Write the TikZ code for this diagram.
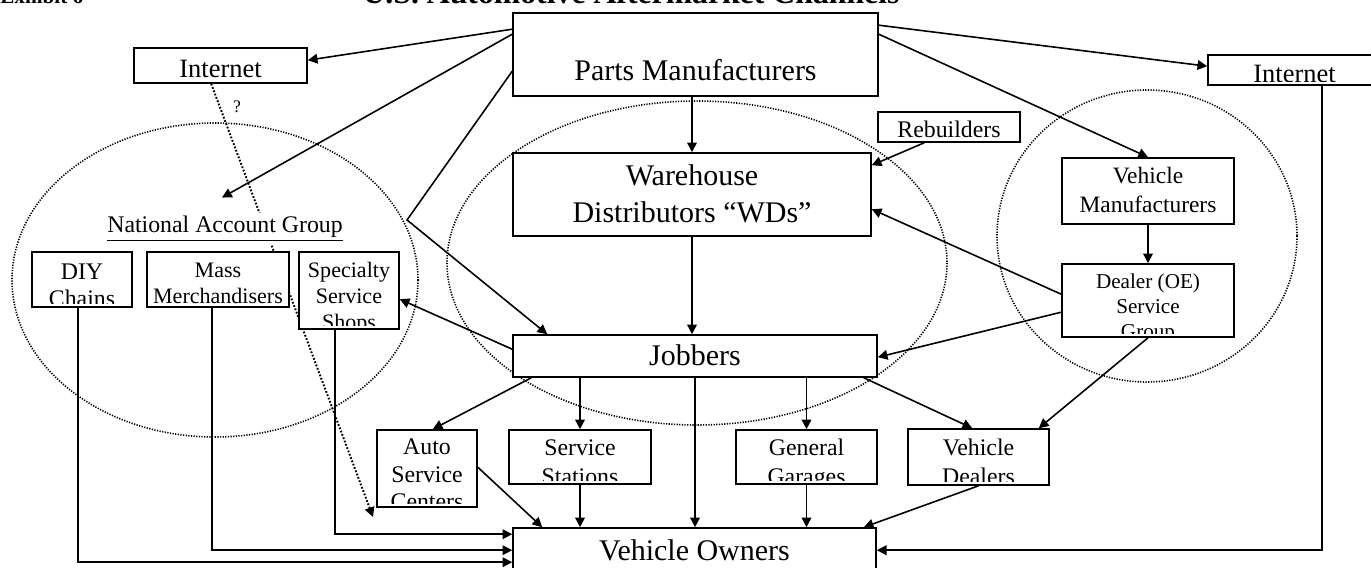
\documentclass[tikz,border=0pt]{standalone}
\usepackage{fontspec}
\setmainfont{Liberation Serif}
\usetikzlibrary{arrows.meta}
\usetikzlibrary{calc}
\usetikzlibrary{backgrounds}

\newdimen\pxu
\pxu=0.567pt
\newcommand{\bigtext}{\fontsize{17}{21}\selectfont}
\newcommand{\nettext}{\fontsize{15}{17}\selectfont}
\newcommand{\smalltext}{\fontsize{13.5}{16.5}\selectfont}
\newcommand{\tinytext}{\fontsize{12.5}{14.7}\selectfont}

\begin{document}
\begin{tikzpicture}[x=0.567pt,y=-0.567pt,>={Triangle[length=5.5pt,width=5.5pt]},
    box/.style={draw,fill=white,line width=0.9pt,inner sep=0pt},
    boxsize/.style 2 args={minimum width=#1*0.567pt,minimum height=#2*0.567pt},
    says/.style n args={3}{path picture={%
        \clip ([yshift=2pt]path picture bounding box.south west) rectangle (path picture bounding box.north east);
        \node[font=#1,align=center,anchor=north,inner sep=0pt,
          minimum width=0pt,minimum height=0pt,draw=none,fill=none]
          at (path picture bounding box.north) {\rule{0pt}{#2\pxu}#3};}},
    link/.style={->,line width=0.9pt},
    ring/.style={line width=0.9pt,dash pattern=on 0.7pt off 0.8pt},
    maybe/.style={->,line width=1.1pt,dash pattern=on 1pt off 1pt}]
  \useasboundingbox (0,0) rectangle (1371,568);

  % heading, runs off the top edge
  \node[font=\bfseries\fontsize{12}{14}\selectfont,anchor=base west,inner sep=0pt] (exhibit) at (0,4) {Exhibit 6};
  \node[font=\bfseries\fontsize{18}{21}\selectfont,anchor=base,inner sep=0pt] (title) at (631,4) {U.S. Automotive Aftermarket Channels};

  % top row
  \node[box,boxsize={173}{35},says={\nettext}{29}{Internet}] (netL) at (220.5,65.5) {};
  \node[box,boxsize={365}{83},says={\bigtext}{67}{Parts Manufacturers}] (pm) at (695.5,54.5) {};
  \node[box,boxsize={173}{30},says={\nettext}{27}{Internet}] (netR) at (1294.5,70) {};
  \node[box,boxsize={142}{30},says={\fontsize{13.5}{15}\selectfont}{25}{Rebuilders}] (reb) at (949,127) {};

  % middle
  \node[box,boxsize={358}{83},says={\bigtext}{32}{Warehouse\\Distributors “WDs”}] (wd) at (692,194.5) {};
  \node[box,boxsize={172}{66},says={\fontsize{13.3}{16.4}\selectfont}{25}{Vehicle\\Manufacturers}] (vm) at (1148,191) {};
  \node[box,boxsize={172}{73},says={\fontsize{12}{14.2}\selectfont}{24}{Dealer (OE)\\Service\\Group}] (dealer) at (1148,300.5) {};
  \node[fill=white,inner sep=2pt,font=\fontsize{13.5}{15}\selectfont,anchor=base] (nag) at (225,233) {\underline{National Account Group}};
  \node[box,boxsize={100}{55},says={\fontsize{13.5}{15.3}\selectfont}{27}{DIY\\Chains}] (diy) at (82,279.5) {};
  \node[box,boxsize={142}{55},says={\tinytext}{25}{Mass\\Merchandisers}] (mass) at (218,279.5) {};
  \node[box,boxsize={100}{77},says={\tinytext}{25}{Specialty\\Service\\Shops}] (spec) at (349,290.5) {};
  \node[box,boxsize={364}{42},says={\bigtext}{30}{Jobbers}] (job) at (695,356) {};

  % bottom rows
  \node[box,boxsize={100}{77},says={\fontsize{13.5}{15.5}\selectfont}{24}{Auto\\Service\\Centers}] (asc) at (427,468.5) {};
  \node[box,boxsize={142}{54},says={\smalltext}{25}{Service\\Stations}] (ss) at (580,457) {};
  \node[box,boxsize={141}{54},says={\smalltext}{25}{General\\Garages}] (gg) at (806.5,457) {};
  \node[box,boxsize={141}{56},says={\smalltext}{26}{Vehicle\\Dealers}] (vd) at (978.5,457) {};
  \node[box,boxsize={363}{60},says={\bigtext}{32}{Vehicle Owners}] (vo) at (694.5,558) {};

  \begin{pgfonlayer}{background}
    % groupings
    \draw[ring] (215,280) ellipse [x radius=203, y radius=157];
    \draw[ring] (697,263) ellipse [x radius=250, y radius=162];
    \draw[ring] (1147,236) ellipse [x radius=150, y radius=146];
    % uncertain web channel
    \coordinate (web) at (373,517);
    \draw[maybe] ($(netL.south west)+(78,0)$) -- (web);
    \node[font=\fontsize{10}{12}\selectfont] (q) at (237,107) {?};
  \end{pgfonlayer}

  % from parts manufacturers
  \coordinate (kink) at (407,220);
  \draw[link] ($(pm.north west)+(0,17)$) -- ($(netL.north east)+(0,13)$);
  \draw[link] ($(pm.north west)+(0,22)$) -- ($(nag.north)+(-3,-15)$);
  \draw[link] ($(pm.north west)+(0,59)$) -- (kink) -- ($(job.north west)+(35,0)$);
  \draw[link] ($(pm.north east)+(0,13)$) -- ($(netR.north west)+(0,12)$);
  \draw[link] ($(pm.north east)+(0,22)$) -- (vm.north);
  \draw[link] (wd.north |- pm.south) -- (wd.north);

  % into WDs and jobbers
  \draw[link] ($(reb.south west)+(47,0)$) -- ($(wd.north east)+(0,13)$);
  \draw[link] (wd.south) -- (wd.south |- job.north);
  \draw[link] ($(dealer.north west)+(0,31)$) -- ($(wd.north east)+(0,57)$);
  \draw[link] ($(dealer.north west)+(0,49)$) -- ($(job.north east)+(0,23)$);
  \draw[link] ($(job.north west)+(0,15)$) -- ($(spec.north east)+(0,48)$);
  \draw[link] (vm.south) -- (dealer.north);
  \draw[link] (dealer.south) -- ($(vd.north east)+(-11,0)$);

  % jobbers out
  \draw[link] ($(job.south west)+(19,0)$) -- ($(asc.north east)+(-45,0)$);
  \draw[link] (ss.north |- job.south) -- (ss.north);
  \draw[link] (job.south) -- (job.south |- vo.north);
  \draw[link] (gg.north |- job.south) -- (gg.north);
  \draw[link] ($(job.south east)+(-14,0)$) -- ($(vd.north west)+(65,0)$);

  % to vehicle owners
  \draw[link] ($(asc.north east)+(0,38)$) -- ($(vo.north west)+(30,0)$);
  \draw[link] (ss.south) -- (ss.south |- vo.north);
  \draw[link] (gg.south) -- (gg.south |- vo.north);
  \draw[link] (vd.south) -- ($(vo.north east)+(-13,0)$);
  \draw[link] ($(netR.south)+(27.5,0)$) |- ($(vo.north east)+(0,23)$);
  \draw[link] ($(diy.south west)+(47,0)$) |- ($(vo.north west)+(0,35)$);
  \draw[link] ($(mass.south west)+(66,0)$) |- ($(vo.north west)+(0,23)$);
  \draw[link] ($(spec.south west)+(37,0)$) |- ($(vo.north west)+(0,7)$);
\end{tikzpicture}
\end{document}
